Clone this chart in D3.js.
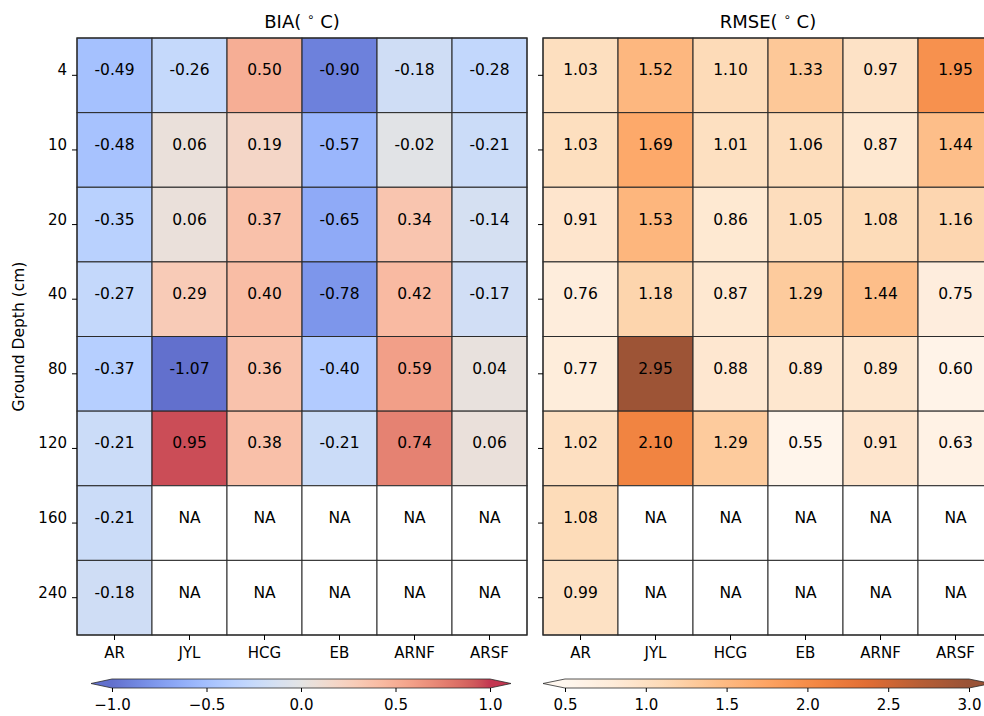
<!DOCTYPE html>
<html>
<head>
<meta charset="utf-8">
<script src="https://cdn.jsdelivr.net/npm/d3@7"></script>
<style>
  body { margin: 0; background: #fff; }
  text { font-family: "DejaVu Sans", sans-serif; fill: #000; }
</style>
</head>
<body>
<script>
const depths = ['4', '10', '20', '40', '80', '120', '160', '240']
const sites = ['AR', 'JYL', 'HCG', 'EB', 'ARNF', 'ARSF']

// rows = depth, columns = site, null = NA
const bia = [
  [-0.49, -0.26, 0.50, -0.90, -0.18, -0.28],
  [-0.48, 0.06, 0.19, -0.57, -0.02, -0.21],
  [-0.35, 0.06, 0.37, -0.65, 0.34, -0.14],
  [-0.27, 0.29, 0.40, -0.78, 0.42, -0.17],
  [-0.37, -1.07, 0.36, -0.40, 0.59, 0.04],
  [-0.21, 0.95, 0.38, -0.21, 0.74, 0.06],
  [-0.21, null, null, null, null, null],
  [-0.18, null, null, null, null, null]
]
const rmse = [
  [1.03, 1.52, 1.10, 1.33, 0.97, 1.95],
  [1.03, 1.69, 1.01, 1.06, 0.87, 1.44],
  [0.91, 1.53, 0.86, 1.05, 1.08, 1.16],
  [0.76, 1.18, 0.87, 1.29, 1.44, 0.75],
  [0.77, 2.95, 0.88, 0.89, 0.89, 0.60],
  [1.02, 2.10, 1.29, 0.55, 0.91, 0.63],
  [1.08, null, null, null, null, null],
  [0.99, null, null, null, null, null]
]
const biaTicks = [-1.0, -0.5, 0.0, 0.5, 1.0]
const rmseTicks = [0.5, 1.0, 1.5, 2.0, 2.5, 3.0]

// matplotlib coolwarm (Moreland table)
const coolwarmRGB = [
  [59,76,192],[68,90,204],[77,104,215],[87,117,225],[98,130,234],[108,142,241],
  [119,154,247],[130,165,251],[141,176,254],[152,185,255],[163,194,255],[174,201,253],
  [184,208,249],[194,213,244],[204,217,238],[213,219,230],[221,221,221],[229,216,209],
  [236,211,197],[241,204,185],[245,196,173],[247,187,160],[247,177,148],[247,166,135],
  [244,154,123],[241,141,111],[236,127,99],[229,112,88],[222,96,77],[213,80,66],
  [203,62,56],[192,40,47],[180,4,38]
]
const orangesHex = ['#fff5eb','#fee6ce','#fdd0a2','#fdae6b','#fd8d3c','#f16913','#d94801','#a63603','#7f2704']

const coolwarm = d3.scaleLinear()
  .domain(coolwarmRGB.map((d, i) => i / (coolwarmRGB.length - 1)))
  .range(coolwarmRGB.map(d => d3.rgb(d[0], d[1], d[2])))
  .clamp(true)
const oranges = d3.scaleLinear()
  .domain(orangesHex.map((d, i) => i / (orangesHex.length - 1)))
  .range(orangesHex)
  .clamp(true)

const m = { width: 984, height: 716 }
const plotTop = 38, h = 597, w = 450
const alpha = 0.8
const fs = 15

const svg = d3.select('body').append('svg')
  .attr('width', m.width)
  .attr('height', m.height)

const y = d3.scaleBand().domain(depths).range([plotTop, plotTop + h])

function panel(x0, data, cmap, vmin, vmax, title, showY, cb) {
  const x = d3.scaleBand().domain(sites).range([x0, x0 + w])
  const g = svg.append('g')
  const norm = v => (v - vmin) / (vmax - vmin)

  const cells = []
  data.forEach((row, i) => row.forEach((v, j) => cells.push({ d: depths[i], s: sites[j], v: v })))

  g.selectAll('rect.cell')
    .data(cells)
    .enter()
    .append('rect')
      .attr('x', d => x(d.s))
      .attr('y', d => y(d.d))
      .attr('width', x.bandwidth())
      .attr('height', y.bandwidth())
      .attr('fill', d => d.v === null ? '#fff' : cmap(norm(d.v)))
      .attr('fill-opacity', d => d.v === null ? 1 : alpha)
      .attr('stroke', '#2b2b2b')
      .attr('stroke-width', 1)

  // text sits a little above the cell centre, as in the source figure
  g.selectAll('text.val')
    .data(cells)
    .enter()
    .append('text')
      .attr('x', d => x(d.s) + x.bandwidth() / 2)
      .attr('y', d => y(d.d) + y.bandwidth() / 2 - 5)
      .attr('text-anchor', 'middle')
      .attr('dominant-baseline', 'central')
      .attr('font-size', 15.5)
      .text(d => d.v === null ? 'NA' : d.v.toFixed(2))

  g.append('rect')
    .attr('x', x0).attr('y', plotTop).attr('width', w).attr('height', h)
    .attr('fill', 'none').attr('stroke', '#2b2b2b').attr('stroke-width', 1.2)

  const xAxis = g.append('g')
    .attr('transform', `translate(0,${plotTop + h})`)
    .call(d3.axisBottom(x).tickSize(5).tickPadding(7))
  xAxis.select('.domain').remove()
  xAxis.selectAll('text').attr('font-size', fs).attr('font-family', '"DejaVu Sans", sans-serif')

  const yAxis = g.append('g')
    .attr('transform', `translate(${x0},0)`)
    .call(d3.axisLeft(y).tickSize(5).tickPadding(5))
  yAxis.select('.domain').remove()
  yAxis.selectAll('text').attr('font-size', fs).attr('font-family', '"DejaVu Sans", sans-serif')
    .attr('dy', '0.0em')
  if (!showY) yAxis.selectAll('text').remove()

  const t = svg.append('text')
    .attr('x', x0 + w / 2)
    .attr('y', 28)
    .attr('text-anchor', 'middle')
    .attr('font-size', 18)
  t.append('tspan').text(title + '( ')
  t.append('tspan').attr('dy', -7).attr('font-size', 12).text('\u2218')
  t.append('tspan').attr('dy', 7).text(' C)')

  // colorbar
  const cx = d3.scaleLinear().domain([vmin, vmax]).range([cb.x1, cb.x2])
  const cy = 679, ch = 9
  const id = 'grad' + title
  const grad = svg.append('defs').append('linearGradient').attr('id', id)
  d3.range(0, 1.0001, 0.02).forEach(s => {
    grad.append('stop').attr('offset', s).attr('stop-color', cmap(s))
  })
  const cbg = svg.append('g')
  cbg.append('rect')
    .attr('x', cx(vmin)).attr('y', cy).attr('width', cx(vmax) - cx(vmin)).attr('height', ch)
    .attr('fill', `url(#${id})`).attr('fill-opacity', alpha)
  cbg.append('path')
    .attr('d', `M${cx(vmin)},${cy}L${cx(vmin) - cb.ext},${cy + ch / 2}L${cx(vmin)},${cy + ch}Z`)
    .attr('fill', cmap(0)).attr('fill-opacity', alpha)
  cbg.append('path')
    .attr('d', `M${cx(vmax)},${cy}L${cx(vmax) + cb.ext},${cy + ch / 2}L${cx(vmax)},${cy + ch}Z`)
    .attr('fill', cmap(1)).attr('fill-opacity', alpha)
  cbg.append('path')
    .attr('d', `M${cx(vmin)},${cy}L${cx(vmax)},${cy}L${cx(vmax) + cb.ext},${cy + ch / 2}L${cx(vmax)},${cy + ch}` +
      `L${cx(vmin)},${cy + ch}L${cx(vmin) - cb.ext},${cy + ch / 2}Z`)
    .attr('fill', 'none').attr('stroke', '#2b2b2b').attr('stroke-width', 0.8)

  const cAxis = cbg.append('g')
    .attr('transform', `translate(0,${cy + ch})`)
    .call(d3.axisBottom(cx).tickValues(cb.ticks).tickSize(4).tickPadding(7)
      .tickFormat(d => d3.format('.1f')(d).replace('-', '\u2212')))
  cAxis.select('.domain').remove()
  cAxis.selectAll('text').attr('font-size', fs).attr('font-family', '"DejaVu Sans", sans-serif')
}

panel(77, bia, coolwarm, -1, 1, 'BIA', true, { x1: 112, x2: 490, ext: 21, ticks: biaTicks })
panel(543, rmse, oranges, 0.5, 3.0, 'RMSE', false, { x1: 565, x2: 969, ext: 22, ticks: rmseTicks })

svg.append('text')
  .attr('transform', `translate(24,${plotTop + h / 2}) rotate(-90)`)
  .attr('text-anchor', 'middle')
  .attr('font-size', 15.5)
  .text('Ground Depth (cm)')
</script>
</body>
</html>
